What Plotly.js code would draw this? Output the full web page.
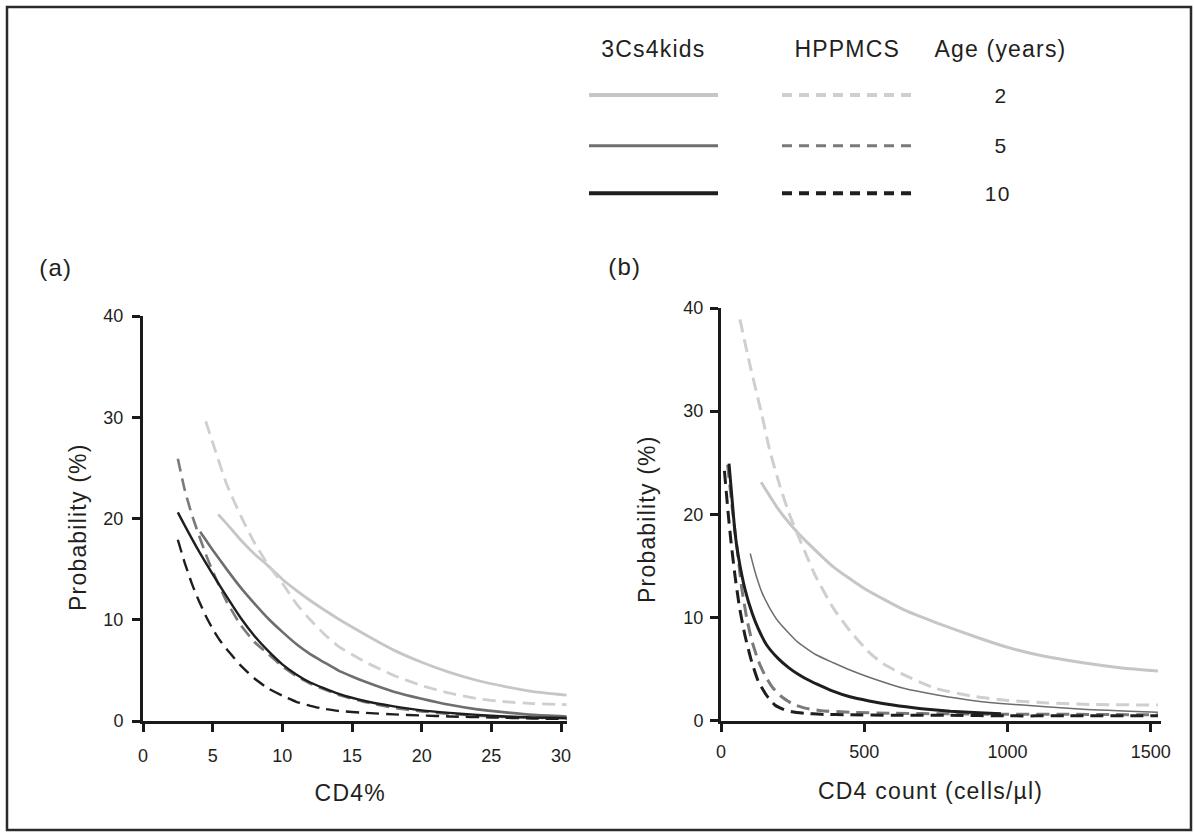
<!DOCTYPE html>
<html>
<head>
<meta charset="utf-8">
<script src="https://cdn.plot.ly/plotly-3.0.1.min.js"></script>
<style>
html,body{margin:0;padding:0;background:#ffffff;}
#chart{width:1194px;height:835px;}
#chart .annotation-text{letter-spacing:1.2px;}
</style>
</head>
<body>
<div id="chart"></div>
<script>
// ---------- Panel (a): probability vs CD4% ----------
const a_3c_age2_x = [5.4,6,7,8,9,10,11,12,14,16,18,20,22,24,26,28,30.4];
const a_3c_age2_y = [20.4,19.5,17.9,16.5,15.3,14.0,12.9,11.9,10.1,8.5,7.0,5.8,4.8,4.0,3.4,2.9,2.55];
const a_hp_age2_x = [4.5,5,6,7,8,9,10,11,12,13,14,16,18,20,22,24,26,28,30.4];
const a_hp_age2_y = [29.6,27.5,23.4,20.3,17.6,15.4,13.6,11.6,10.0,8.6,7.4,5.8,4.5,3.5,2.75,2.2,1.9,1.72,1.62];
const a_3c_age5_x = [4.1,5,6,7,8,9,10,11,12,13,14,15,16,18,20,22,24,26,28,30.4];
const a_3c_age5_y = [18.7,16.9,15.0,13.2,11.6,10.1,8.8,7.6,6.6,5.8,5.0,4.4,3.85,2.9,2.2,1.6,1.15,0.85,0.6,0.45];
const a_hp_age5_x = [2.5,3,3.5,4,4.5,5,6,7,8,9,10,11,12,14,16,18,20,22,25,28,30.4];
const a_hp_age5_y = [25.9,22.8,20.4,18.4,16.5,14.8,11.8,9.5,7.8,6.6,5.4,4.45,3.7,2.6,1.85,1.3,0.95,0.7,0.45,0.33,0.28];
const a_3c_age10_x = [2.5,3,4,5,6,7,8,9,10,11,12,14,16,18,20,22,24,26,28,30.4];
const a_3c_age10_y = [20.6,19.3,16.8,14.5,12.3,10.2,8.4,6.9,5.6,4.6,3.8,2.7,1.95,1.45,1.05,0.8,0.6,0.45,0.35,0.3];
const a_hp_age10_x = [2.5,3,3.5,4,4.5,5,5.5,6,7,8,9,10,11,12,13,14,16,18,20,22,25,28,30.4];
const a_hp_age10_y = [17.9,15.6,13.6,11.9,10.4,9.1,8.0,7.1,5.5,4.2,3.2,2.5,1.9,1.5,1.2,1.0,0.8,0.65,0.55,0.45,0.35,0.25,0.2];

// ---------- Panel (b): probability vs CD4 count ----------
const b_3c_age2_x = [140,200,268,300,392,500,641,750,890,1000,1100,1263,1400,1525];
const b_3c_age2_y = [23.1,20.5,18.2,17.3,14.9,12.8,10.7,9.5,8.1,7.1,6.4,5.6,5.1,4.8];
const b_hp_age2_x = [66,100,143,170,205,240,268,300,330,392,450,517,566,641,750,890,1000,1139,1300,1525];
const b_hp_age2_y = [38.9,34.6,29.6,26.2,22.8,19.9,18.0,15.9,14.0,10.9,8.7,6.6,5.5,4.4,3.1,2.3,1.95,1.7,1.55,1.5];
const b_3c_age5_x = [102,120,143,170,200,268,330,392,450,517,641,750,890,1000,1263,1525];
const b_3c_age5_y = [16.2,14.3,12.4,10.9,9.6,7.6,6.4,5.6,4.9,4.2,3.1,2.5,1.9,1.6,1.1,0.8];
const b_hp_age5_x = [23,30,40,55,72,90,107,130,153,180,212,250,293,350,450,600,800,1000,1200,1525];
const b_hp_age5_y = [24.8,23.0,20.4,17.0,12.9,9.9,7.8,5.8,4.4,3.2,2.3,1.6,1.2,0.95,0.8,0.7,0.65,0.6,0.6,0.55];
const b_3c_age10_x = [28,40,49,60,84,110,130,160,200,237,268,293,337,386,450,517,600,700,800,900,977];
const b_3c_age10_y = [24.9,21.0,18.2,16.0,12.7,10.3,8.9,7.3,6.0,5.1,4.5,4.1,3.5,2.9,2.3,1.9,1.5,1.15,0.9,0.75,0.65];
const b_hp_age10_x = [12,18,26,35,49,65,84,105,130,160,188,220,247,290,350,450,600,800,1000,1200,1525];
const b_hp_age10_y = [24.2,22.3,19.8,17.3,14.0,10.9,8.2,5.9,3.8,2.4,1.5,1.05,0.85,0.7,0.6,0.55,0.5,0.5,0.45,0.45,0.45];

// ---------- Axis ticks and text ----------
const a_xticks = [0,5,10,15,20,25,30];
const b_xticks = [0,500,1000,1500];
const yticks = [0,10,20,30,40];
const legendHeaders = ["3Cs4kids","HPPMCS","Age (years)"];
const ages = ["2","5","10"];

// ---------- Styling ----------
const W = 1194, H = 835;
const px = v => v / W;
const py = v => 1 - v / H;
const FONT = "Liberation Sans, Arial, Helvetica, sans-serif";
const INK = "#231f20";
const C_LIGHT = "#c6c6c6", C_LIGHT_D = "#cfcfcf";
const C_MID = "#6e6e6e", C_MID_D = "#7a7a7a";
const C_DARK = "#1e1e1e";
const DASH = "13px,7px";

function line(x, y, xa, ya, color, width, dash) {
  return {x: x, y: y, xaxis: xa, yaxis: ya, type: "scatter", mode: "lines",
          line: {color: color, width: width, dash: dash || "solid", shape: "spline", smoothing: 0.5},
          hoverinfo: "skip", showlegend: false};
}

const data = [
  line(a_3c_age2_x, a_3c_age2_y, "x", "y", C_LIGHT, 2.8),
  line(a_hp_age2_x, a_hp_age2_y, "x", "y", C_LIGHT_D, 2.8, DASH),
  line(a_3c_age5_x, a_3c_age5_y, "x", "y", C_MID, 2.6),
  line(a_hp_age5_x, a_hp_age5_y, "x", "y", C_MID_D, 2.6, DASH),
  line(a_3c_age10_x, a_3c_age10_y, "x", "y", C_DARK, 2.4),
  line(a_hp_age10_x, a_hp_age10_y, "x", "y", C_DARK, 2.4, DASH),

  line(b_3c_age2_x, b_3c_age2_y, "x2", "y2", C_LIGHT, 3),
  line(b_hp_age2_x, b_hp_age2_y, "x2", "y2", C_LIGHT_D, 3, DASH),
  line(b_3c_age5_x, b_3c_age5_y, "x2", "y2", C_MID, 1.5),
  line(b_hp_age5_x, b_hp_age5_y, "x2", "y2", C_MID_D, 3, DASH),
  line(b_3c_age10_x, b_3c_age10_y, "x2", "y2", C_DARK, 3),
  line(b_hp_age10_x, b_hp_age10_y, "x2", "y2", C_DARK, 3, DASH)
];

function axisBase(extra) {
  return Object.assign({
    showgrid: false, zeroline: false, showline: true, linewidth: 3, linecolor: "#1a1a1a",
    ticks: "outside", ticklen: 8, tickwidth: 3, tickcolor: "#1a1a1a",
    tickfont: {family: FONT, size: 18, color: INK}, automargin: false, fixedrange: true
  }, extra);
}

const layout = {
  width: W, height: H,
  margin: {l: 0, r: 0, t: 0, b: 0, pad: 0},
  paper_bgcolor: "#ffffff", plot_bgcolor: "rgba(0,0,0,0)",
  showlegend: false,
  xaxis: axisBase({domain: [px(143), px(567)], range: [0, 30.43], anchor: "y", tickmode: "array", tickvals: a_xticks, ticklabelstandoff: 8}),
  yaxis: axisBase({domain: [py(721), py(316)], range: [0, 40], anchor: "x", tickmode: "array", tickvals: yticks, ticklabelstandoff: 5}),
  xaxis2: axisBase({domain: [px(721), px(1160.5)], range: [0, 1534], anchor: "y2", tickmode: "array", tickvals: b_xticks, ticklabelstandoff: 5}),
  yaxis2: axisBase({domain: [py(720.5), py(308)], range: [0, 40], anchor: "x2", tickmode: "array", tickvals: yticks, ticklabelstandoff: 3}),
  shapes: [],
  annotations: []
};

const T = (text, x, y, size, extra) => Object.assign({
  text: text, x: px(x), y: py(y), xref: "paper", yref: "paper",
  xanchor: "center", yanchor: "middle", showarrow: false,
  font: {family: FONT, size: size, color: INK}
}, extra || {});

// frame
layout.shapes.push({type: "rect", xref: "paper", yref: "paper",
  x0: px(7), x1: px(1191), y0: py(830), y1: py(7),
  line: {color: "#2b2b2b", width: 2.5}, fillcolor: "rgba(0,0,0,0)"});

// legend keys
const legendY = [95, 145.7, 193.3];
const legendSolid = [C_LIGHT, C_MID, C_DARK];
const legendDash = [C_LIGHT_D, C_MID_D, C_DARK];
const legendW = [4, 3, 4];
for (let i = 0; i < 3; i++) {
  layout.shapes.push({type: "line", xref: "paper", yref: "paper",
    x0: px(589), x1: px(718), y0: py(legendY[i]), y1: py(legendY[i]),
    line: {color: legendSolid[i], width: legendW[i]}});
  layout.shapes.push({type: "line", xref: "paper", yref: "paper",
    x0: px(782), x1: px(911), y0: py(legendY[i]), y1: py(legendY[i]),
    line: {color: legendDash[i], width: legendW[i], dash: "10px,7px"}});
  layout.annotations.push(T(ages[i], i === 2 ? 997 : 1001, legendY[i], 21));
}
layout.annotations.push(T(legendHeaders[0], 653, 49, 23));
layout.annotations.push(T(legendHeaders[1], 847, 49, 23));
layout.annotations.push(T(legendHeaders[2], 1001, 49, 23));

// panel labels
layout.annotations.push(T("(a)", 55, 267, 24));
layout.annotations.push(T("(b)", 624, 266, 24));

// axis titles
layout.annotations.push(T("CD4%", 350, 793, 23));
layout.annotations.push(T("CD4 count (cells/\u00b5l)", 930, 791, 23));
layout.annotations.push(T("Probability (%)", 78, 527, 23, {textangle: -90}));
layout.annotations.push(T("Probability (%)", 647, 519, 23, {textangle: -90}));

Plotly.newPlot("chart", data, layout, {displayModeBar: false, staticPlot: true});
</script>
</body>
</html>
